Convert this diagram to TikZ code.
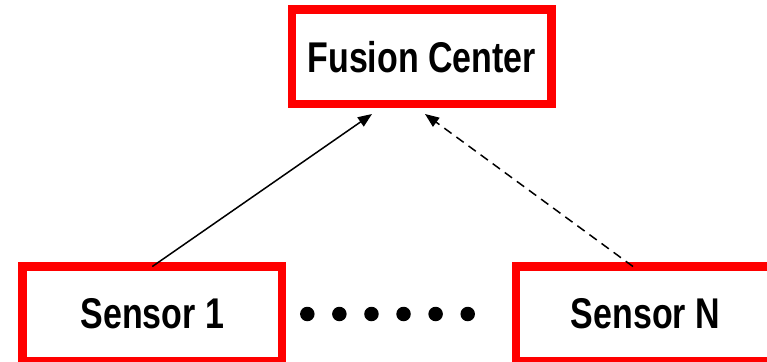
\documentclass[tikz,border=0pt]{standalone}
\usepackage{fontspec}
\setmainfont{Liberation Sans}[FakeStretch=0.79,BoldFeatures={FakeStretch=0.79}]
\usetikzlibrary{arrows.meta,calc}
\begin{document}
\begin{tikzpicture}[x=1pt,y=-1pt,
  box/.style={draw=red,line width=8.5pt,minimum width=259.5pt,minimum height=94.5pt,inner sep=0pt,outer sep=0pt,
    font=\fontsize{43}{50}\selectfont\bfseries},
  dot/.style={circle,fill=black,inner sep=0pt,minimum size=14.5pt},
  link/.style={line width=1.5pt,-{Triangle[length=14pt,width=11pt]}}]
\useasboundingbox (0,0) rectangle (767,361);
\clip (0,0) rectangle (767,361);
\node[box] (fc) at (421.75,56.75) {Fusion Center};
\node[box] (s1) at (152.25,313.8) {Sensor 1};
\node[box] (sn) at (645.5,313.8) {Sensor N};
\foreach \i in {0,...,5}{
  \node[dot] (d\i) at ({307.3+32.08*\i},314) {};
}
\coordinate (t1) at ($(fc.south)+(-49.75,10)$);
\coordinate (t2) at ($(fc.south)+(3.25,10)$);
\coordinate (b2) at ($(sn.north)+(-12.5,0)$);
\draw[link] (s1.north) -- (t1);
\draw[link,dash pattern=on 9pt off 6pt] (b2) -- (t2);
\end{tikzpicture}
\end{document}
